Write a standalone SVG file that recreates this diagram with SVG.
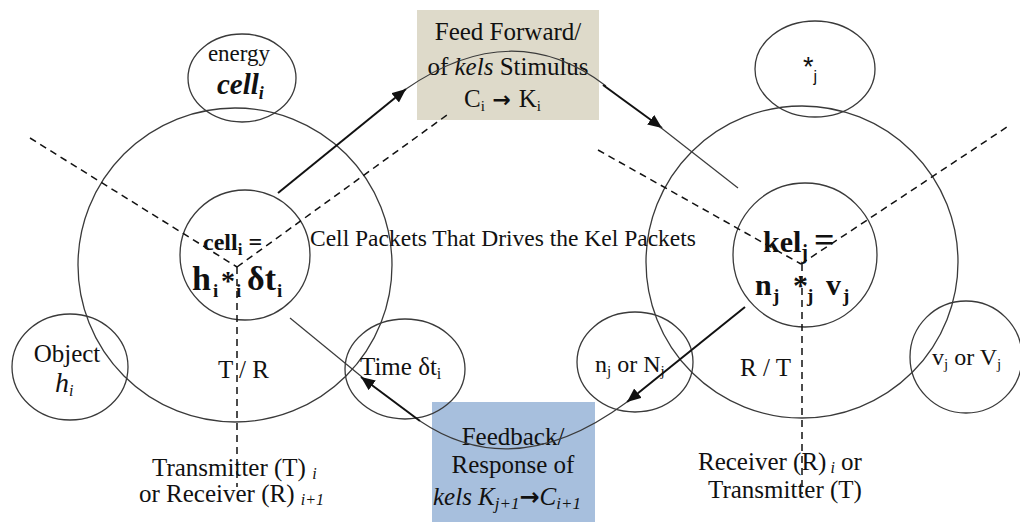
<svg xmlns="http://www.w3.org/2000/svg" width="1020" height="522" viewBox="0 0 1020 522">
  <style>
    .ring { fill: none; stroke: #3a3a3a; stroke-width: 1.3; }
    .dash { fill: none; stroke: #111; stroke-width: 1.5; stroke-dasharray: 7 5; }
    .thin { fill: none; stroke: #3a3a3a; stroke-width: 1.2; }
    .thick { fill: none; stroke: #111; stroke-width: 2; }
    .t { font-family: "Liberation Serif", "Times New Roman", serif; fill: #111; }
    .b { font-weight: bold; }
    .it { font-style: italic; }
    .mid { text-anchor: middle; }
  </style>
  <defs>
    <marker id="head" markerUnits="userSpaceOnUse" markerWidth="16" markerHeight="14" refX="14" refY="6" orient="auto">
      <path d="M0,0 L14,6 L0,12 z" fill="#111"/>
    </marker>
  </defs>

  <rect width="1020" height="522" fill="#ffffff"/>

  <g font-size="25">
  <!-- message boxes -->
  <g id="feed-forward">
    <rect x="417" y="10" width="182" height="110" fill="#DEDACA"/>
    <text class="t mid" x="508" y="40">Feed Forward/</text>
    <text class="t mid" x="508" y="75">of <tspan class="it">kels</tspan> Stimulus</text>
    <text class="t" x="464" y="107">C<tspan font-size="15" dy="4">i</tspan><tspan dy="-4" font-family="DejaVu Sans" font-weight="bold" font-size="22"> → </tspan>K<tspan font-size="15" dy="4">i</tspan></text>
  </g>
  <g id="feedback">
    <rect x="432" y="402" width="163" height="122" fill="#A7BFDD"/>
    <text class="t mid" x="513" y="445">Feedback/</text>
    <text class="t mid" x="513" y="473">Response of</text>
    <text class="t it" x="433" y="505">kels  K<tspan font-size="17" dy="4">j+1</tspan><tspan dy="-4" font-style="normal" font-family="DejaVu Sans" font-weight="bold" font-size="24">→</tspan>C<tspan font-size="17" dy="4">i+1</tspan></text>
  </g>

  <!-- left cell -->
  <g id="cell-left">
    <circle class="ring" cx="235" cy="265" r="157"/>
    <circle class="ring" cx="245" cy="255" r="65"/>
    <text class="t b" x="203" y="250" font-size="24">cell<tspan font-size="17" dy="5">i</tspan><tspan dy="-5"> =</tspan></text>
    <text class="t b" font-size="34" y="290"><tspan x="192">h</tspan><tspan x="213" font-size="19" dy="7">i</tspan><tspan x="221" dy="-7" font-size="28">*</tspan><tspan x="236" font-size="19" dy="7">i</tspan><tspan x="247" dy="-7">δt</tspan><tspan x="277" font-size="19" dy="7">i</tspan></text>
    <text class="t" x="218" y="378">T / R</text>
  </g>
  <g id="energy-cell">
    <ellipse class="ring" cx="242" cy="78" rx="54" ry="44"/>
    <text class="t mid" x="239" y="61" font-size="23">energy</text>
    <text class="t b it" x="217" y="94" font-size="29">cell<tspan font-size="18" dy="5">i</tspan></text>
  </g>
  <g id="object">
    <ellipse class="ring" cx="70" cy="367" rx="58" ry="53"/>
    <text class="t mid" x="67" y="362">Object</text>
    <text class="t it" x="55" y="392" font-size="28">h<tspan font-size="16" dy="4">i</tspan></text>
  </g>
  <g id="time">
    <ellipse class="ring" cx="405" cy="369" rx="60" ry="50"/>
    <text class="t" x="360" y="375">Time δt<tspan font-size="16" dy="4">i</tspan></text>
  </g>

  <!-- right kel -->
  <g id="kel-right">
    <circle class="ring" cx="802" cy="262" r="156"/>
    <circle class="ring" cx="805" cy="255" r="72"/>
    <text class="t b" x="763" y="252" font-size="30">kel<tspan font-size="20" dy="7">j</tspan><tspan dy="-7" x="814" font-size="36">=</tspan></text>
    <text class="t b" font-size="30" y="295"><tspan x="755">n</tspan><tspan x="773" font-size="19" dy="7">j</tspan><tspan x="793" dy="-7">*</tspan><tspan x="807" font-size="19" dy="7">j</tspan><tspan x="826" dy="-7">v</tspan><tspan x="843" font-size="19" dy="7">j</tspan></text>
    <text class="t" x="740" y="376">R / T</text>
  </g>
  <g id="star">
    <ellipse class="ring" cx="815" cy="69" rx="60" ry="48"/>
    <text x="803" y="76" font-family="Liberation Sans, Arial, sans-serif" font-size="27" fill="#111">*<tspan font-size="16" dy="6">j</tspan></text>
  </g>
  <g id="n-node">
    <ellipse class="ring" cx="635" cy="362" rx="58" ry="50"/>
    <text class="t" x="595" y="372" font-size="24">n<tspan font-size="15" dy="4">j</tspan><tspan dy="-4"> or N</tspan><tspan font-size="15" dy="4">j</tspan></text>
  </g>
  <g id="v-node">
    <ellipse class="ring" cx="966" cy="357" rx="56" ry="56"/>
    <text class="t" x="932" y="365" font-size="24">v<tspan font-size="15" dy="4">j</tspan><tspan dy="-4"> or V</tspan><tspan font-size="15" dy="4">j</tspan></text>
  </g>

  <!-- role labels -->
  <g id="label-left">
    <text class="t" x="152" y="476">Transmitter (T) <tspan class="it" font-size="16" dy="3">i</tspan></text>
    <text class="t" x="139" y="502">or Receiver (R) <tspan class="it" font-size="16" dy="3">i+1</tspan></text>
  </g>
  <g id="label-right">
    <text class="t" x="698" y="470">Receiver (R)<tspan class="it" font-size="16" dy="3"> i</tspan><tspan dy="-3"> or</tspan></text>
    <text class="t" x="708" y="498">Transmitter (T)</text>
  </g>

  <text id="packets" class="t" x="310" y="246" font-size="23.5">Cell Packets That Drives the Kel Packets</text>
  </g>

  <!-- connectors -->
  <g id="connectors">
    <line class="dash" x1="30" y1="138" x2="237" y2="267"/>
    <line class="dash" x1="237" y1="267" x2="447" y2="115"/>
    <line class="dash" x1="237" y1="267" x2="237" y2="487"/>
    <line class="dash" x1="598" y1="150" x2="801" y2="264"/>
    <line class="dash" x1="801" y1="264" x2="1010" y2="125"/>
    <line class="dash" x1="802" y1="264" x2="802" y2="494"/>

    <!-- feed forward path -->
    <line class="thick" x1="278" y1="193" x2="406" y2="89" marker-end="url(#head)"/>
    <path class="thin" d="M406,89 Q513,15 606,86"/>
    <line class="thick" x1="603" y1="85" x2="662" y2="128" marker-end="url(#head)"/>
    <line class="thin" x1="660" y1="127" x2="738" y2="188"/>

    <!-- feedback path -->
    <line class="thin" x1="290" y1="318" x2="362" y2="377"/>
    <line class="thick" x1="420" y1="421" x2="361" y2="377" marker-end="url(#head)"/>
    <path class="thin" d="M420,421 Q515,485 627,402"/>
    <line class="thick" x1="745" y1="307" x2="627" y2="402" marker-end="url(#head)"/>
  </g>
</svg>
